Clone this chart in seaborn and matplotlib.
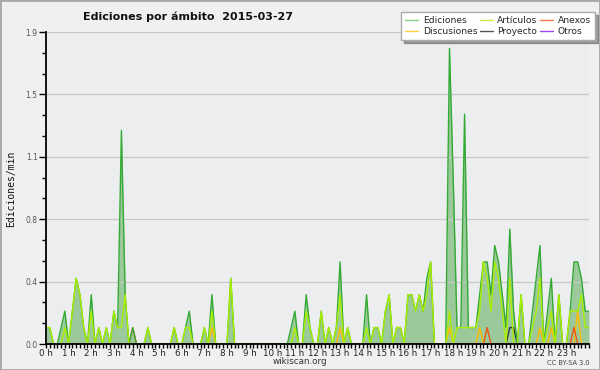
import matplotlib
matplotlib.use("Agg")
import matplotlib.pyplot as plt
import matplotlib.ticker as mticker
from matplotlib.lines import Line2D
from matplotlib.patches import Rectangle
import numpy as np
import pandas as pd
import seaborn as sns

# 10-minute bins over the day (edits per minute), one row per hour
EDICIONES = [
    0.1, 0.1, 0, 0, 0.1, 0.2,
    0, 0.2, 0.4, 0.3, 0.1, 0,
    0.3, 0, 0.1, 0, 0.1, 0,
    0.2, 0.1, 1.3, 0.3, 0, 0.1,
    0, 0, 0, 0.1, 0, 0,
    0, 0, 0, 0, 0.1, 0,
    0, 0.1, 0.2, 0, 0, 0,
    0.1, 0, 0.3, 0, 0, 0,
    0, 0.4, 0, 0, 0, 0,
    0, 0, 0, 0, 0, 0,
    0, 0, 0, 0, 0, 0.1,
    0.2, 0, 0, 0.3, 0.1, 0,
    0, 0.2, 0, 0.1, 0, 0.1,
    0.5, 0, 0.1, 0, 0, 0,
    0, 0.3, 0, 0.1, 0.1, 0,
    0.2, 0.3, 0, 0.1, 0.1, 0,
    0.3, 0.3, 0.2, 0.3, 0.2, 0.4,
    0.5, 0, 0, 0, 0, 1.8,
    1.0, 0.1, 0.1, 1.4, 0.1, 0.1,
    0.1, 0.3, 0.5, 0.5, 0.3, 0.6,
    0.5, 0.3, 0.1, 0.7, 0.2, 0,
    0.3, 0, 0, 0.2, 0.4, 0.6,
    0, 0.2, 0.4, 0, 0.3, 0,
    0, 0.2, 0.5, 0.5, 0.4, 0.2,
    0.2,
]
ARTICULOS = [
    0.1, 0.1, 0, 0, 0, 0.1,
    0, 0.2, 0.4, 0.3, 0.1, 0,
    0.2, 0, 0.1, 0, 0.1, 0,
    0.2, 0.1, 0.1, 0.3, 0, 0,
    0, 0, 0, 0.1, 0, 0,
    0, 0, 0, 0, 0.1, 0,
    0, 0.1, 0.1, 0, 0, 0,
    0.1, 0, 0.2, 0, 0, 0,
    0, 0.4, 0, 0, 0, 0,
    0, 0, 0, 0, 0, 0,
    0, 0, 0, 0, 0, 0,
    0.1, 0, 0, 0.2, 0.1, 0,
    0, 0.2, 0, 0.1, 0, 0.1,
    0.3, 0, 0.1, 0, 0, 0,
    0, 0.1, 0, 0.1, 0.1, 0,
    0.2, 0.3, 0, 0.1, 0.1, 0,
    0.3, 0.3, 0.2, 0.3, 0.2, 0.3,
    0.5, 0, 0, 0, 0, 0.2,
    0, 0.1, 0.1, 0.1, 0.1, 0.1,
    0.1, 0.2, 0.5, 0.4, 0.2, 0.5,
    0.4, 0.2, 0, 0.4, 0, 0,
    0.3, 0, 0, 0.1, 0.2, 0.4,
    0, 0.1, 0.2, 0, 0.3, 0,
    0, 0.2, 0.2, 0.2, 0.3, 0.1,
    0.1,
]
N = len(EDICIONES)
DISCUSIONES = [0.0] * N
for i, v in [(44, 0.1), (78, 0.1), (107, 0.1), (115, 0.1), (131, 0.1), (134, 0.1), (141, 0.2)]:
    DISCUSIONES[i] = v
ANEXOS = [0.0] * N
for i, v in [(23, 0.1), (117, 0.1), (140, 0.1)]:
    ANEXOS[i] = v
PROYECTO = [0.0] * N
for i, v in [(123, 0.1), (124, 0.1)]:
    PROYECTO[i] = v
OTROS = [0.0] * N

HOURS = [i / 6 for i in range(N)]
SERIES = ["Otros", "Proyecto", "Discusiones", "Anexos", "Ediciones", "Artículos"]
LINE_COLORS = {
    "Ediciones": "#33aa33", "Artículos": "#aaee00", "Anexos": "#ee5511",
    "Discusiones": "#ffbb00", "Proyecto": "#333333", "Otros": "#8833ee",
}
LEGEND_COLORS = {
    "Ediciones": "#88cc88", "Artículos": "#ccee44", "Anexos": "#ff7744",
    "Discusiones": "#ffcc44", "Proyecto": "#555555", "Otros": "#9944ee",
}
LEGEND_ORDER = ["Ediciones", "Discusiones", "Artículos", "Proyecto", "Anexos", "Otros"]

values = {
    "Ediciones": EDICIONES, "Artículos": ARTICULOS, "Anexos": ANEXOS,
    "Discusiones": DISCUSIONES, "Proyecto": PROYECTO, "Otros": OTROS,
}
df = pd.concat(
    [pd.DataFrame({"hora": HOURS, "valor": values[s], "ambito": s}) for s in SERIES],
    ignore_index=True,
)

sns.set_style("ticks")
plt.rcParams["font.family"] = ["DejaVu Sans"]

fig = plt.figure(figsize=(6, 3.7), dpi=100, facecolor="#f0f0f0")
ax = fig.add_axes([46 / 600, 1 - 344 / 370, 543 / 600, 312 / 370])
ax.set_facecolor("#ecedef")

ax.fill_between(HOURS, EDICIONES, color="#9cc99c", lw=0, zorder=1)
sns.lineplot(
    data=df, x="hora", y="valor", hue="ambito", hue_order=SERIES,
    palette=LINE_COLORS, ax=ax, legend=False, lw=1.0, zorder=2,
)

ax.set_xlim(0, 24)
ax.set_ylim(0, 1.9)
ax.set_xticks(range(24))
ax.set_xticklabels([f"{h} h" for h in range(24)])
ax.xaxis.set_minor_locator(mticker.MultipleLocator(1 / 6))
ax.set_yticks(np.linspace(0, 1.9, 6))
ax.yaxis.set_major_formatter(mticker.FormatStrFormatter("%.1f"))
ax.yaxis.set_minor_locator(mticker.MultipleLocator(1.9 / 15))
ax.tick_params(axis="both", which="both", direction="out", color="black", width=1)
ax.tick_params(axis="x", which="major", length=3, labelsize=6.3, pad=0.5, labelcolor="#222")
ax.tick_params(axis="x", which="minor", length=3)
ax.tick_params(axis="y", which="major", length=5, labelsize=5.5, pad=1, labelcolor="#555")
ax.tick_params(axis="y", which="minor", length=3)
ax.set_axisbelow("line")
ax.yaxis.grid(True, color="#c8c8c8", lw=0.9)
ax.set_xlabel("")
ax.set_ylabel("")
for side in ["top", "right"]:
    ax.spines[side].set_visible(False)
for side in ["left", "bottom"]:
    ax.spines[side].set_color("black")
    ax.spines[side].set_linewidth(1.3)
    ax.spines[side].set_zorder(3)

fig.text(0.313, 0.955, "Ediciones por ámbito  2015-03-27", ha="center", va="center",
         fontsize=8, fontweight="bold", color="#111")
fig.text(0.018, 0.49, "Ediciones/min", rotation=90, ha="center", va="center",
         fontsize=7, family="DejaVu Sans Mono", color="#111")
fig.text(0.5, 0.022, "wikiscan.org", ha="center", va="center", fontsize=6.3, color="#333")
fig.text(0.983, 0.02, "CC BY-SA 3.0", ha="right", va="center", fontsize=4.8, color="#444")

handles = [Line2D([0], [0], color=LEGEND_COLORS[s], lw=1) for s in LEGEND_ORDER]
leg = fig.legend(
    handles, LEGEND_ORDER, ncol=3, loc="upper right",
    bbox_to_anchor=(595 / 600, 1 - 12 / 370), fontsize=6.6, frameon=True,
    fancybox=False, shadow=True, handlelength=1.4, handletextpad=0.5,
    columnspacing=0.3, labelspacing=0.2, borderpad=0.45, borderaxespad=0,
)
leg.get_frame().set_facecolor("white")
leg.get_frame().set_edgecolor("#aaaaaa")
leg.get_frame().set_alpha(1)

fig.patches.append(Rectangle((0, 0), 1, 1, transform=fig.transFigure, fill=False,
                             edgecolor="#a8a8a8", lw=2, zorder=10))

fig.savefig("out.png", dpi=100, facecolor=fig.get_facecolor())
